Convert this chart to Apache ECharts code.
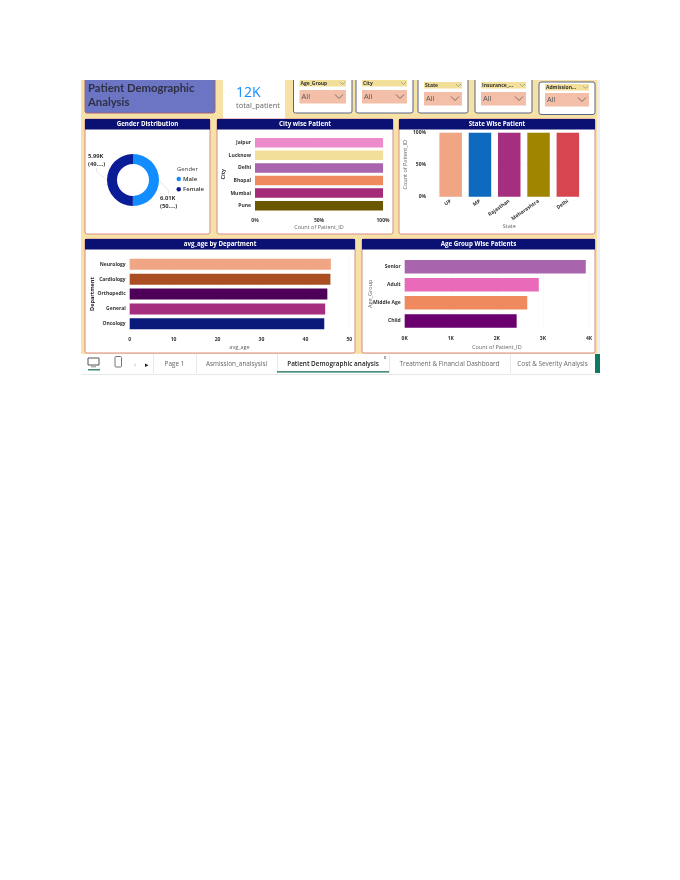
<!DOCTYPE html>
<html>
<head>
<meta charset="utf-8">
<title>Patient Demographic Analysis</title>
<script src="https://cdn.jsdelivr.net/npm/echarts@6/dist/echarts.min.js"></script>
<style>
  html, body { margin: 0; padding: 0; background: #fff; }
  #main { width: 680px; height: 880px; }
</style>
</head>
<body>
<div id="main"></div>
<script>
var genderNames = ['Male', 'Female'];
var genderValues = [6010, 5990];
var genderTags = ['6.01K\n(50....)', '5.99K\n(49....)'];
var genderColors = ['#118dff', '#0b1d96'];

var cityNames = ['Jaipur', 'Lucknow', 'Delhi', 'Bhopal', 'Mumbai', 'Pune'];
var cityShare = [100, 100, 100, 100, 100, 100];
var cityColors = ['#ee8ccb', '#f2e09a', '#a864ad', '#ee8a5d', '#a52a78', '#6b5700'];

var stateNames = ['UP', 'MP', 'Rajasthan', 'Maharashtra', 'Delhi'];
var stateShare = [100, 100, 100, 100, 100];
var stateColors = ['#f0a585', '#0e6abf', '#a52f7e', '#a08600', '#d64550'];

var deptNames = ['Neurology', 'Cardiology', 'Orthopedic', 'General', 'Oncology'];
var deptAvgAge = [45.8, 45.7, 45.0, 44.5, 44.3];
var deptColors = ['#f0a585', '#a94f23', '#4e0058', '#a52f7e', '#0a1a7a'];

var ageNames = ['Senior', 'Adult', 'Middle Age', 'Child'];
var ageCounts = [3930, 2910, 2660, 2430];
var ageColors = ['#a864ad', '#e86ab8', '#ee8a5d', '#6b006f'];

var slicerNames = ['Age_Group', 'City', 'State', 'Insurance_...', 'Admission...'];
var tabNames = ['Page 1', 'Asmission_analsysisi', 'Patient Demographic analysis', 'Treatment & Financial Dashboard', 'Cost & Severity Analysis'];

var FONT = '"Open Sans", sans-serif';
var NAVY = '#0a1172';
var BORDER = '#d98a8a';
var G = [];

function rect(x, y, w, h, fill, stroke, r, z) {
  G.push({ type: 'rect', z: z || -5, silent: true, shape: { x: x, y: y, width: w, height: h, r: r || 0 },
    style: { fill: fill, stroke: stroke || null, lineWidth: stroke ? 1 : 0 } });
}
function label(x, y, str, size, color, weight, align, family) {
  G.push({ type: 'text', z: 5, silent: true, x: x, y: y,
    style: { text: str, fontSize: size, fill: color, fontWeight: weight || 'normal',
      align: align || 'left', verticalAlign: 'middle', fontFamily: family || FONT, lineHeight: size * 1.45 } });
}
function chevron(x, y, w, h, color) {
  G.push({ type: 'polyline', z: 5, silent: true,
    shape: { points: [[x, y], [x + w / 2, y + h], [x + w, y]] },
    style: { stroke: color, lineWidth: 0.8, fill: null } });
}
function panel(x, y, w, h, title) {
  rect(x, y, w, h, '#fff', BORDER, 2);
  rect(x, y, w, 10.5, NAVY);
  label(x + w / 2, y + 5.5, title, 6.2, '#fff', 'bold', 'center');
}
// stripY and boxY are the page positions of the yellow name strip and the salmon dropdown
function slicer(x, top, w, bottom, stripY, boxY, name, value) {
  rect(x, top, w, bottom - top, '#fff', '#5b6484', 2);
  rect(x + 6, stripY, w - 12, 6.5, '#f2e09a');
  label(x + 7, stripY + 3.4, name, 5, '#333', 'bold');
  chevron(x + w - 12, stripY + 2, 5, 2.5, '#999');
  rect(x + 6, boxY, w - 12, 13.5, '#f4bfa8');
  label(x + 8, boxY + 7, value, 7.5, '#555');
  chevron(x + w - 17, boxY + 4.5, 8, 4, '#555');
}

// dashboard chrome
rect(81, 80, 516, 274, '#f6e2a6');
rect(597, 80, 3, 294, '#eeeeee');
rect(81, 354, 519, 20, '#fff');
rect(81, 374, 519, 1, '#e8e8e8');
rect(85, 70, 130, 43, '#6b75c4', '#a0607a', 2);
label(88, 88, 'Patient Demographic', 11.3, '#2f2f45', 'bold', 'left', 'Lato, sans-serif');
label(88, 102, 'Analysis', 11.3, '#2f2f45', 'bold', 'left', 'Lato, sans-serif');
rect(223, 70, 62, 49, '#fff');
label(236, 93, '12K', 14, '#118dff');
label(236, 106, 'total_patient', 7.5, '#666');

slicer(293.5, 70, 58.5, 113, 80, 90, slicerNames[0], 'All');
slicer(356, 70, 57, 113, 80, 90, slicerNames[1], 'All');
slicer(418, 70, 50, 113, 82, 92, slicerNames[2], 'All');
slicer(475, 70, 57, 113, 82, 92, slicerNames[3], 'All');
slicer(539, 82, 56, 114.5, 84, 93, slicerNames[4], 'All');
// the screenshot is cut off at the top edge
rect(78, 66, 525, 14, '#fff', null, 0, -1);

panel(85, 119, 125, 115, 'Gender Distribution');
panel(217, 119, 176, 115, 'City wise Patient');
panel(399, 119, 196, 115, 'State Wise Patient');
panel(85, 239, 270, 114, 'avg_age by Department');
panel(362, 239, 233, 114, 'Age Group Wise Patients');
label(177, 169.5, 'Gender', 6, '#444');

// bottom tab strip
var tabEdges = [153, 196, 277, 389, 510, 595];
tabNames.forEach(function (name, i) {
  var active = i === 2;
  label((tabEdges[i] + tabEdges[i + 1]) / 2, 364.5, name, 6.4, active ? '#222' : '#666', active ? '600' : 'normal', 'center');
  rect(tabEdges[i + 1], 354, 0.8, 19, '#e4e4e4');
});
rect(153, 354, 0.8, 19, '#e4e4e4');
rect(277, 371.2, 112, 1.2, '#0f6b55');
label(385, 358, 'x', 5, '#333', 'normal', 'center');
rect(595, 354, 5, 19, '#0f7a62');
rect(88, 358, 11, 7, '#fff', '#555');
rect(91, 366.5, 5, 0.7, '#555');
rect(88, 369.2, 12, 1.2, '#0f6b55');
rect(115, 356.5, 6.5, 10.5, '#fff', '#777', 1);
label(135, 364.5, '\u2039', 7, '#aaa', 'normal', 'center');
label(147, 364.5, '\u25b8', 7, '#222', 'normal', 'center');

function paintBars(values, colors) {
  return values.map(function (v, i) {
    return { value: v, itemStyle: { color: colors[i] } };
  });
}
var tickText = { fontSize: 5, color: '#333', fontWeight: 'bold', fontFamily: FONT };
var nameText = { fontSize: 5.5, color: '#666', fontFamily: FONT };
var gridLine = { show: true, lineStyle: { color: '#eee', type: 'dotted', width: 0.6 } };

function valueAxis(gridIndex, max, interval, fmt, name, gap) {
  return {
    type: 'value', gridIndex: gridIndex, min: 0, max: max, interval: interval,
    axisLabel: { formatter: fmt, margin: 6, ...tickText, hideOverlap: false },
    axisLine: { show: false }, axisTick: { show: false }, splitLine: gridLine,
    name: name, nameLocation: 'middle', nameGap: gap, nameMoveOverlap: false, nameTextStyle: nameText
  };
}
function catAxis(gridIndex, data, name, gap, nameStyle) {
  return {
    type: 'category', gridIndex: gridIndex, data: data, inverse: true,
    axisLabel: { margin: 4, interval: 0, ...tickText },
    axisLine: { show: false }, axisTick: { show: false },
    name: name, nameLocation: 'middle', nameGap: gap, nameRotate: 90, nameMoveOverlap: false,
    nameTextStyle: nameStyle || nameText
  };
}
function barSeries(axisIndex, values, colors, width) {
  return { type: 'bar', xAxisIndex: axisIndex, yAxisIndex: axisIndex, barWidth: width,
    data: paintBars(values, colors), silent: true, animation: false };
}

var option = {
  animation: false,
  textStyle: { fontFamily: FONT },
  graphic: { elements: G },
  legend: {
    orient: 'vertical', left: 171.5, top: 171, itemWidth: 4.5, itemHeight: 4.5, itemGap: 4.2, icon: 'circle',
    data: genderNames, selectedMode: false,
    textStyle: { fontSize: 6, color: '#333', fontWeight: 600, padding: [0, 0, 0, -3] }
  },
  grid: [
    { left: 255, top: 136.4, width: 128, height: 75.6 },
    { left: 436, top: 132.7, width: 146.5, height: 64 },
    { left: 129.7, top: 256.9, width: 219.6, height: 74.3 },
    { left: 404.7, top: 257.6, width: 184.3, height: 72.4 }
  ],
  xAxis: [
    valueAxis(0, 100, 50, '{value}%', 'Count of Patient_ID', 12),
    {
      type: 'category', gridIndex: 1, data: stateNames,
      axisLabel: { rotate: 35, margin: 4, interval: 0, ...tickText },
      axisLine: { show: false }, axisTick: { show: false },
      name: 'State', nameLocation: 'middle', nameGap: 27, nameMoveOverlap: false, nameTextStyle: nameText
    },
    valueAxis(2, 50, 10, '{value}', 'avg_age', 13),
    valueAxis(3, 4000, 1000, function (v) { return v / 1000 + 'K'; }, 'Count of Patient_ID', 14)
  ],
  yAxis: [
    catAxis(0, cityNames, 'City', 29, { fontSize: 5.5, color: '#333', fontWeight: 'bold', fontFamily: FONT }),
    {
      type: 'value', gridIndex: 1, min: 0, max: 100, interval: 50,
      axisLabel: { formatter: '{value}%', margin: 10, ...tickText },
      axisLine: { show: false }, axisTick: { show: false }, splitLine: gridLine,
      name: 'Count of Patient_ID', nameLocation: 'middle', nameGap: 27.5, nameMoveOverlap: false, nameTextStyle: nameText
    },
    catAxis(2, deptNames, 'Department', 34.7, { fontSize: 5.5, color: '#222', fontWeight: 'bold', fontFamily: FONT }),
    catAxis(3, ageNames, 'Age_Group', 31.7)
  ],
  series: [
    {
      type: 'pie', center: [133, 180], radius: [16, 26], startAngle: 90, silent: true, animation: false,
      data: genderNames.map(function (n, i) {
        return { name: n, value: genderValues[i], itemStyle: { color: genderColors[i] } };
      }),
      label: {
        fontSize: 5.8, color: '#333', fontWeight: 'bold', lineHeight: 8,
        formatter: function (p) { return genderTags[p.dataIndex]; }
      },
      labelLine: { show: true, length: 4, length2: 4, lineStyle: { color: '#ccc', width: 0.5 } },
      labelLayout: function (p) {
        return p.dataIndex === 0 ? { x: 160, y: 194.5, align: 'left', verticalAlign: 'top' }
                                 : { x: 88, y: 152, align: 'left', verticalAlign: 'top' };
      }
    },
    barSeries(0, cityShare, cityColors, 9.5),
    barSeries(1, stateShare, stateColors, 22.5),
    barSeries(2, deptAvgAge, deptColors, 11),
    barSeries(3, ageCounts, ageColors, 13.5)
  ]
};

var myChart = echarts.init(document.getElementById('main'));
myChart.setOption(option);
</script>
</body>
</html>
